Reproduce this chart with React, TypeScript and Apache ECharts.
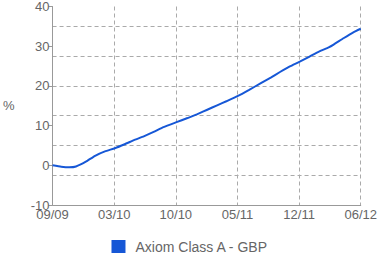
import React, { useEffect, useRef } from "react";
import * as echarts from "echarts";

const xTickLabels = ["09/09", "03/10", "10/10", "05/11", "12/11", "06/12"];
const seriesName = "Axiom Class A - GBP";
// x positions in label-slot units (0..5), values in %
const xPos = [
  0, 0.14, 0.27, 0.38, 0.54, 0.69, 0.85, 1.01, 1.17, 1.33, 1.48, 1.64, 1.80,
  2.0, 2.19, 2.35, 2.51, 2.67, 2.83, 3.0, 3.19, 3.38, 3.54, 3.69, 3.85, 4.01,
  4.17, 4.33, 4.48, 4.56, 4.72, 4.88, 5.0,
];
const yVals = [
  0, -0.35, -0.5, -0.3, 0.9, 2.4, 3.5, 4.3, 5.3, 6.4, 7.3, 8.4, 9.6,
  10.8, 11.9, 12.9, 14.0, 15.1, 16.2, 17.4, 19.0, 20.7, 22.1, 23.5, 24.9, 26.1,
  27.4, 28.7, 29.7, 30.4, 32.0, 33.5, 34.4,
];

const FONT = "'Liberation Sans', Arial, Helvetica, sans-serif";
const LINE_COLOR = "#1657d6";

export default function App() {
  const ref = useRef<HTMLDivElement>(null);
  useEffect(() => {
    if (!ref.current) return;
    const chart = echarts.init(ref.current, undefined, { renderer: "svg" });
    const data = xPos.map((x, i) => [x, yVals[i]]);
    chart.setOption({
      animation: false,
      textStyle: { fontFamily: FONT },
      grid: { left: 46, right: 17, top: 5, bottom: 48, containLabel: false },
      legend: {
        data: [{ name: seriesName, icon: "rect" }],
        left: "center",
        top: 235,
        itemWidth: 14,
        itemHeight: 14,
        textStyle: {
          fontSize: 14,
          color: "#666",
          fontFamily: FONT,
          padding: [0, 0, 0, 5],
        },
      },
      xAxis: {
        type: "value",
        min: 0,
        max: 5,
        interval: 1,
        axisLine: { show: true, onZero: false, lineStyle: { color: "#999", width: 1 } },
        axisTick: { show: false },
        axisLabel: {
          color: "#666",
          fontSize: 13,
          margin: 3,
          fontFamily: FONT,
          formatter: (v: number) => xTickLabels[Math.round(v)] ?? "",
        },
        splitLine: {
          show: true,
          showMinLine: false,
          lineStyle: { color: "#aaa", type: [4, 3], width: 1 },
        },
      },
      yAxis: [
        {
          type: "value",
          min: -10,
          max: 40,
          interval: 10,
          name: "%",
          nameLocation: "middle",
          nameRotate: 0,
          nameGap: 38,
          nameTextStyle: { color: "#666", fontSize: 13, fontFamily: FONT },
          axisLine: { show: true, onZero: false, lineStyle: { color: "#999", width: 1 } },
          axisTick: { show: true, length: 4, lineStyle: { color: "#999" } },
          axisLabel: { color: "#666", fontSize: 13, margin: 3, fontFamily: FONT },
          splitLine: { show: false },
        },
        {
          type: "value",
          min: -10,
          max: 40,
          interval: 7.5,
          position: "left",
          axisLine: { show: false },
          axisTick: { show: false },
          axisLabel: { show: false },
          splitLine: {
            show: true,
            showMinLine: false,
            showMaxLine: false,
            lineStyle: { color: "#aaa", type: [4, 3], width: 1 },
          },
        },
      ],
      series: [
        {
          name: seriesName,
          type: "line",
          data,
          showSymbol: false,
          smooth: 0.15,
          lineStyle: { color: LINE_COLOR, width: 2 },
          itemStyle: { color: LINE_COLOR },
          yAxisIndex: 0,
        },
      ],
    });
    return () => chart.dispose();
  }, []);
  return (
    <div
      ref={ref}
      style={{ position: "absolute", left: 0, top: 0, width: 380, height: 253 }}
    />
  );
}
